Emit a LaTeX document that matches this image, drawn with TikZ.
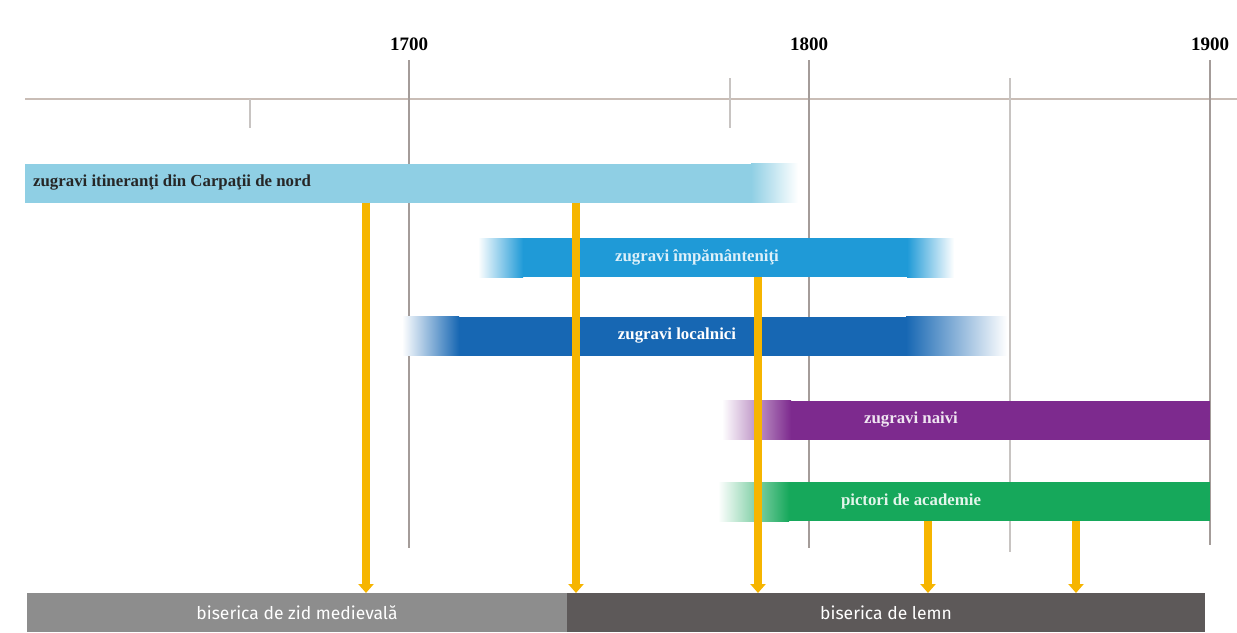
\documentclass[tikz,border=0pt]{standalone}
\usepackage{fontspec}
\setmainfont{Liberation Serif}
\newfontfamily\basefont{Fira Sans}
\usetikzlibrary{arrows.meta}
\definecolor{axisline}{HTML}{C9BDB6}
\definecolor{gridline}{HTML}{A49C99}
\definecolor{itin}{HTML}{8FCFE4}
\definecolor{impam}{HTML}{1F9AD7}
\definecolor{local}{HTML}{1767B3}
\definecolor{naivi}{HTML}{7D2A8E}
\definecolor{acad}{HTML}{16A85B}
\definecolor{zid}{HTML}{8D8D8D}
\definecolor{lemn}{HTML}{5D5959}
\definecolor{feedcol}{HTML}{F6B500}

\begin{document}
\begin{tikzpicture}[x=1pt, y=-1pt,
		grid/.style = {draw=gridline, line width=1.3pt},
		bar/.style  = {minimum height=39pt, inner sep=0pt, outer sep=0pt},
		lbl/.style  = {inner sep=0pt, font=\fontsize{16.8}{17}\selectfont\bfseries},
		year/.style = {font=\fontsize{19}{19}\selectfont\bfseries},
		base/.style = {bar, text=white, font=\basefont\fontsize{17.5}{18}\selectfont},
		feed/.style = {draw=feedcol, line width=8pt, -{Triangle[width=15pt,length=9pt]}}]
	\useasboundingbox[fill=white] (0,0) rectangle (1237,632);

	% time axis
	\draw[draw=axisline, line width=1.3pt] (25,99) -- (1237,99);
	\draw[grid] (409,60) -- (409,548);
	\draw[grid] (809,60) -- (809,548);
	\draw[grid] (1210,60) -- (1210,545);
	\draw[grid, draw=gridline!60] (1010,78) -- (1010,552);
	\draw[grid, draw=gridline!60] (250,99) -- (250,128);
	\draw[grid, draw=gridline!60] (730,78) -- (730,128);
	\node[year] (y1700) at (409,44) {1700};
	\node[year] (y1800) at (809,44) {1800};
	\node[year] (y1900) at (1210,44) {1900};

	% painters
	\node[bar, fill=itin, minimum width=727pt, anchor=west] (itin) at (25,183) {};
	\shade[left color=itin, right color=white] ([xshift=-1pt]itin.north east) rectangle ([xshift=46pt]itin.south east);
	\node[lbl, anchor=west, text=black!85] (itinlbl) at (33,183) {zugravi itineranţi din Carpaţii de nord};

	\node[bar, fill=impam, minimum width=386pt, anchor=west] (impam) at (522,257.5) {};
	\shade[left color=white, right color=impam] ([xshift=-44pt]impam.north west) rectangle ([xshift=1pt]impam.south west);
	\shade[left color=impam, right color=white] ([xshift=-1pt]impam.north east) rectangle ([xshift=46pt]impam.south east);
	\node[lbl, text=impam!15!white] (impamlbl) at (697,257.5) {zugravi împământeniţi};

	\node[bar, fill=local, minimum width=449pt, anchor=west] (local) at (458,336) {};
	\shade[left color=white, right color=local] ([xshift=-56pt]local.north west) rectangle ([xshift=1pt]local.south west);
	\shade[left color=local, right color=white] ([xshift=-1pt]local.north east) rectangle ([xshift=100pt]local.south east);
	\node[lbl, text=white] (locallbl) at (677,336) {zugravi localnici};

	\node[bar, fill=naivi, minimum width=420pt, anchor=west] (naivi) at (790,420) {};
	\shade[left color=white, right color=naivi] ([xshift=-68pt]naivi.north west) rectangle ([xshift=1pt]naivi.south west);
	\node[lbl, text=naivi!12!white] (naivilbl) at (911,420) {zugravi naivi};

	\node[bar, fill=acad, minimum width=422pt, anchor=west] (acad) at (788,501.5) {};
	\shade[left color=white, right color=acad] ([xshift=-70pt]acad.north west) rectangle ([xshift=1pt]acad.south west);
	\node[lbl, text=acad!12!white] (acadlbl) at (911,501.5) {pictori de academie};

	% churches
	\node[base, fill=zid, minimum width=540pt, anchor=north west] (zidbar) at (27,593) {biserica de zid medievală};
	\node[base, fill=lemn, minimum width=638pt, anchor=north west] (lemnbar) at (567,593) {biserica de lemn};

	% influences
	\coordinate (f1) at (366,0);
	\coordinate (f2) at (576,0);
	\coordinate (f3) at (758,0);
	\coordinate (f4) at (928,0);
	\coordinate (f5) at (1076,0);
	\draw[feed] (itin.south -| f1) -- (zidbar.north -| f1);
	\draw[feed] (itin.south -| f2) -- (zidbar.north -| f2);
	\draw[feed] (impam.south -| f3) -- (lemnbar.north -| f3);
	\draw[feed] (acad.south -| f4) -- (lemnbar.north -| f4);
	\draw[feed] (acad.south -| f5) -- (lemnbar.north -| f5);
\end{tikzpicture}
\end{document}
